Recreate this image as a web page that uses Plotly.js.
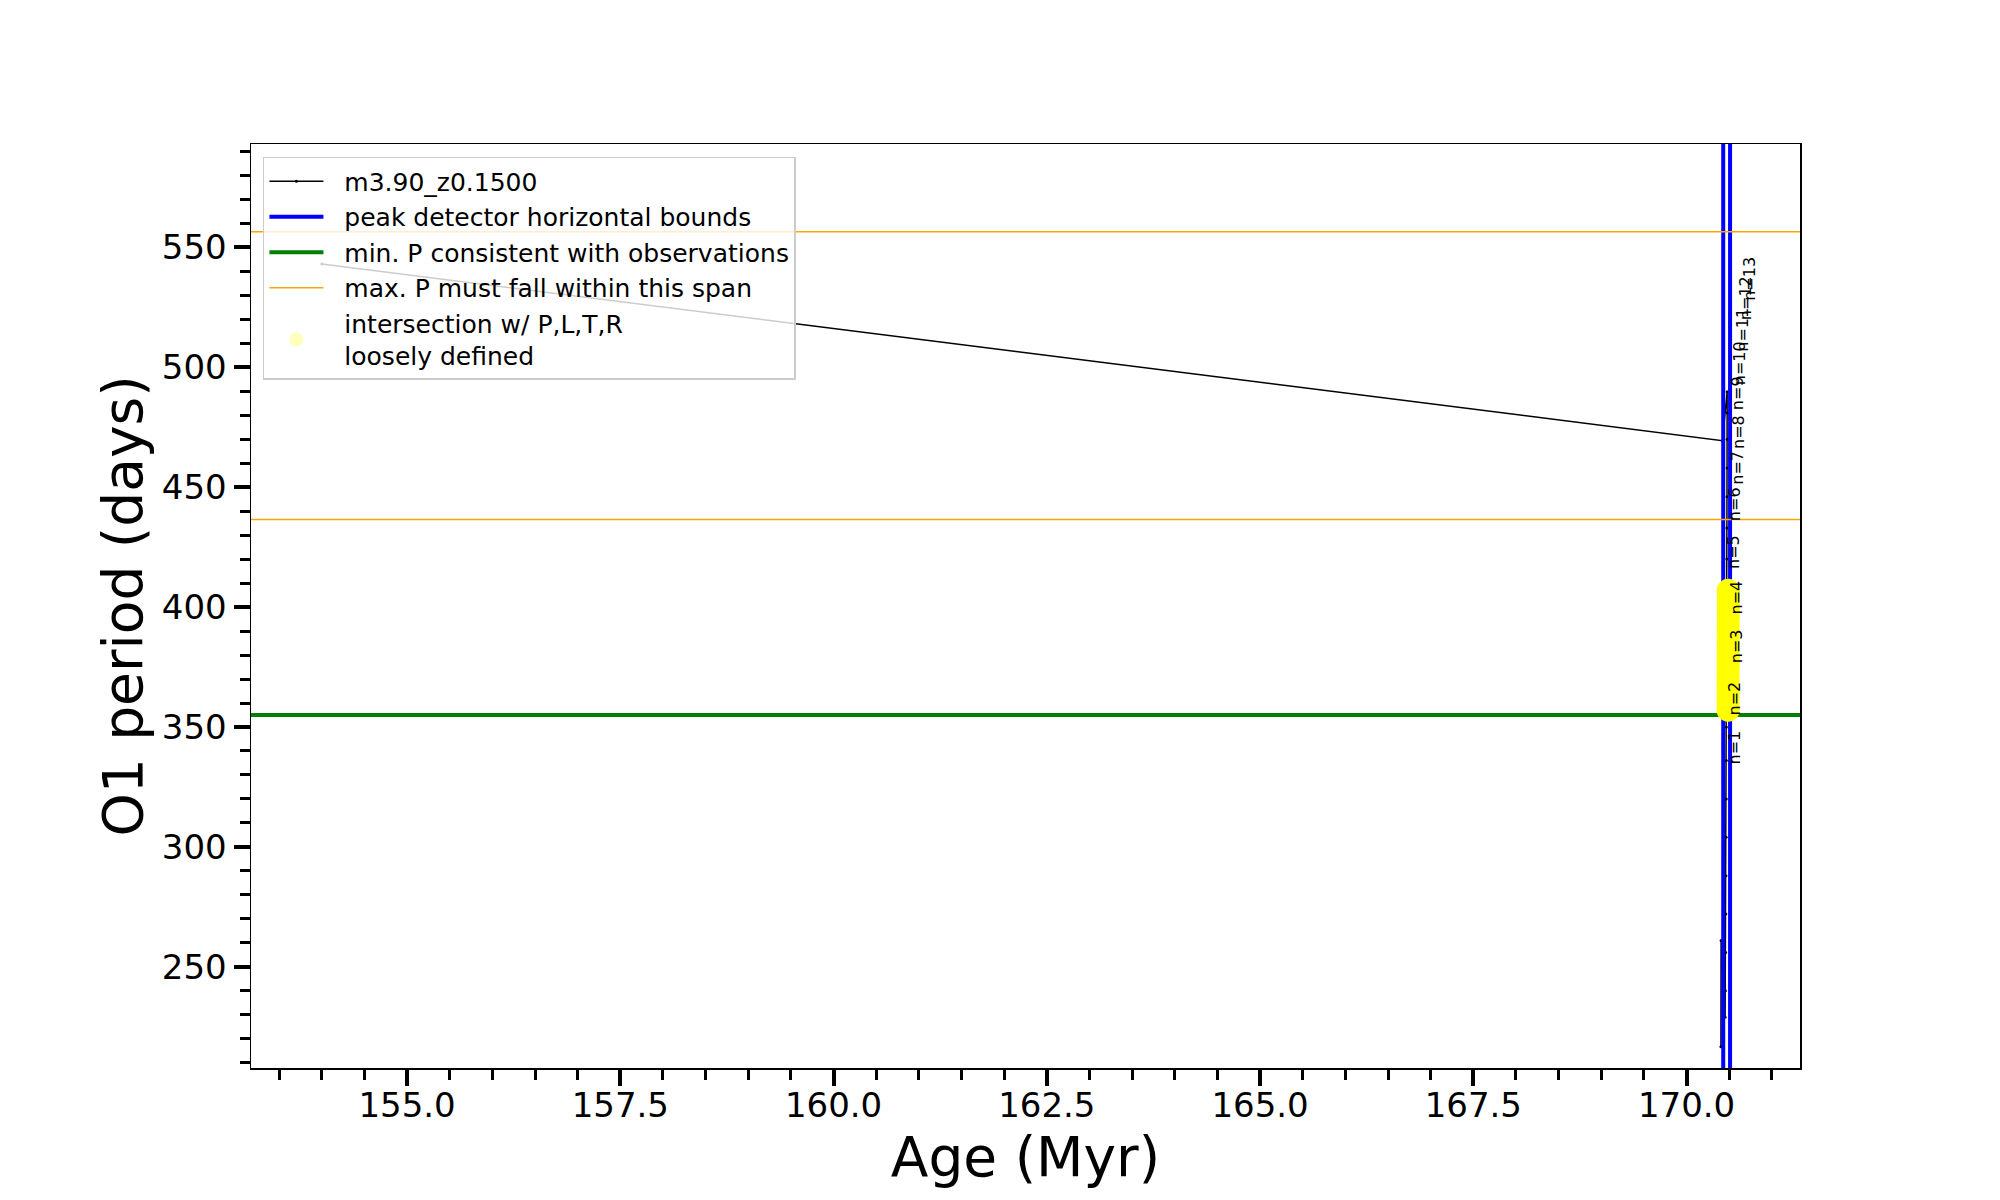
<!DOCTYPE html>
<html><head><meta charset="utf-8">
<script src="https://cdn.plot.ly/plotly-3.0.1.min.js"></script>
<style>body{margin:0;background:#fff}#chart{width:2000px;height:1200px}</style>
</head><body><div id="chart"></div>
<script>
// Evolutionary track m3.90_z0.1500: age (Myr) vs O1 period (days)
const trackAge = [154.00, 170.420, 170.476, 170.477, 170.476, 170.475, 170.474, 170.473, 170.472, 170.471, 170.470, 170.469, 170.468, 170.467, 170.466, 170.465, 170.464, 170.462, 170.460, 170.458, 170.455, 170.452, 170.405, 170.403];
const trackPeriod = [543.1, 469.4, 489.8, 481.0, 470.0, 458.0, 446.0, 433.0, 420.0, 406.0, 392.0, 378.0, 364.0, 350.0, 336.0, 320.0, 304.0, 288.0, 272.0, 256.0, 240.0, 229.0, 261.0, 216.7];

// peak detector horizontal bounds (ages)
const boundAges = [170.43, 170.51];
// min. period consistent with observations
const minPeriod = 355.0;
// max. period span
const maxPeriodSpan = [436.5, 556.5];

// intersection w/ P,L,T,R loosely defined
const intersectAge = [170.487, 170.487, 170.487, 170.487, 170.487, 170.487, 170.487, 170.488, 170.488, 170.488, 170.488, 170.488, 170.488, 170.489, 170.489, 170.489, 170.489, 170.489, 170.489, 170.489, 170.489];
const intersectPeriod = [357.0, 359.5, 362.0, 364.5, 367.0, 369.5, 372.0, 374.5, 377.0, 379.5, 382.0, 384.5, 387.0, 389.5, 392.0, 394.5, 397.0, 399.5, 402.0, 404.5, 407.0];

// mode labels
const modeLabels = ['n=1','n=2','n=3','n=4','n=5','n=6','n=7','n=8','n=9','n=10','n=11','n=12','n=13'];
const modeAge = [170.557, 170.563, 170.586, 170.586, 170.557, 170.570, 170.600, 170.603, 170.606, 170.630, 170.660, 170.690, 170.730];
const modePeriod = [341.5, 361.7, 383.5, 403.8, 423.0, 443.0, 458.0, 473.0, 489.3, 501.8, 515.6, 529.0, 536.8];

// legend names
const seriesNames = ['m3.90_z0.1500', 'peak detector horizontal bounds', 'min. P consistent with observations', 'max. P must fall within this span', 'intersection w/ P,L,T,R<br>loosely defined'];

// axes
const xRange = [153.17, 171.33];
const yRange = [207.8, 593.1];
const xTitle = 'Age (Myr)';
const yTitle = 'O1 period (days)';

const FONT = 'DejaVu Sans, Liberation Sans, sans-serif';
const PAD = '\u00a0\u00a0';
const legName = s => PAD + s.split('<br>').join('<br>' + PAD);

const traces = [
  {
    x: trackAge, y: trackPeriod, type: 'scatter', mode: 'lines+markers',
    name: legName(seriesNames[0]),
    line: {color: 'black', width: 1.5},
    marker: {color: 'black', size: 3}
  },
  {
    x: [boundAges[0], boundAges[0], null, boundAges[1], boundAges[1]],
    y: [yRange[0], yRange[1], null, yRange[0], yRange[1]],
    type: 'scatter', mode: 'lines', name: legName(seriesNames[1]),
    line: {color: '#0000ff', width: 4}
  },
  {
    x: [xRange[0], xRange[1]], y: [minPeriod, minPeriod],
    type: 'scatter', mode: 'lines', name: legName(seriesNames[2]),
    line: {color: '#008000', width: 4}
  },
  {
    x: [xRange[0], xRange[1], null, xRange[0], xRange[1]],
    y: [maxPeriodSpan[0], maxPeriodSpan[0], null, maxPeriodSpan[1], maxPeriodSpan[1]],
    type: 'scatter', mode: 'lines', name: legName(seriesNames[3]),
    line: {color: '#ffa500', width: 1.5}
  },
  {
    x: intersectAge, y: intersectPeriod, type: 'scatter', mode: 'markers',
    name: 'intersection', showlegend: false,
    marker: {color: '#ffff00', size: 23, line: {width: 0}}
  },
  {
    x: [null], y: [null], type: 'scatter', mode: 'markers',
    name: legName(seriesNames[4]),
    marker: {color: 'rgba(255,255,0,0.25)', size: 14, line: {width: 0}}
  }
];

const annotations = modeLabels.map((t, i) => ({
  x: modeAge[i], y: modePeriod[i], xref: 'x', yref: 'y',
  text: t, showarrow: false, textangle: -90,
  font: {family: FONT, size: 16, color: 'black'},
  xanchor: 'center', yanchor: 'middle'
}));

const axisCommon = {
  showgrid: false, zeroline: false,
  showline: true, linecolor: 'black', linewidth: 1.5, mirror: true,
  ticks: 'outside', ticklen: 16, tickwidth: 4, tickcolor: 'black',
  tickfont: {family: FONT, size: 34, color: 'black'}
};

const layout = {
  width: 2000, height: 1200,
  margin: {l: 251, r: 200, t: 144, b: 132},
  paper_bgcolor: 'white', plot_bgcolor: 'white',
  font: {family: FONT, color: 'black'},
  showlegend: true,
  legend: {
    x: 0.0077, y: 0.986, xanchor: 'left', yanchor: 'top',
    bgcolor: 'rgba(255,255,255,0.8)', bordercolor: '#cccccc', borderwidth: 1.5,
    font: {family: FONT, size: 25, color: 'black'},
    itemwidth: 54, tracegroupgap: 0
  },
  xaxis: Object.assign({}, axisCommon, {
    range: xRange, tick0: 0, dtick: 2.5, tickformat: '.1f',
    ticklabelstandoff: -9,
    minor: {dtick: 0.5, ticks: 'outside', ticklen: 10, tickwidth: 3, tickcolor: 'black'},
    title: {text: xTitle, font: {family: FONT, size: 55, color: 'black'}, standoff: 4}
  }),
  yaxis: Object.assign({}, axisCommon, {
    range: yRange, tick0: 0, dtick: 50,
    minor: {dtick: 10, ticks: 'outside', ticklen: 10, tickwidth: 3, tickcolor: 'black'},
    title: {text: yTitle, font: {family: FONT, size: 55, color: 'black'}, standoff: 1}
  }),
  annotations: annotations
};

Plotly.newPlot('chart', traces, layout, {displayModeBar: false, staticPlot: true});
</script>
</body></html>
